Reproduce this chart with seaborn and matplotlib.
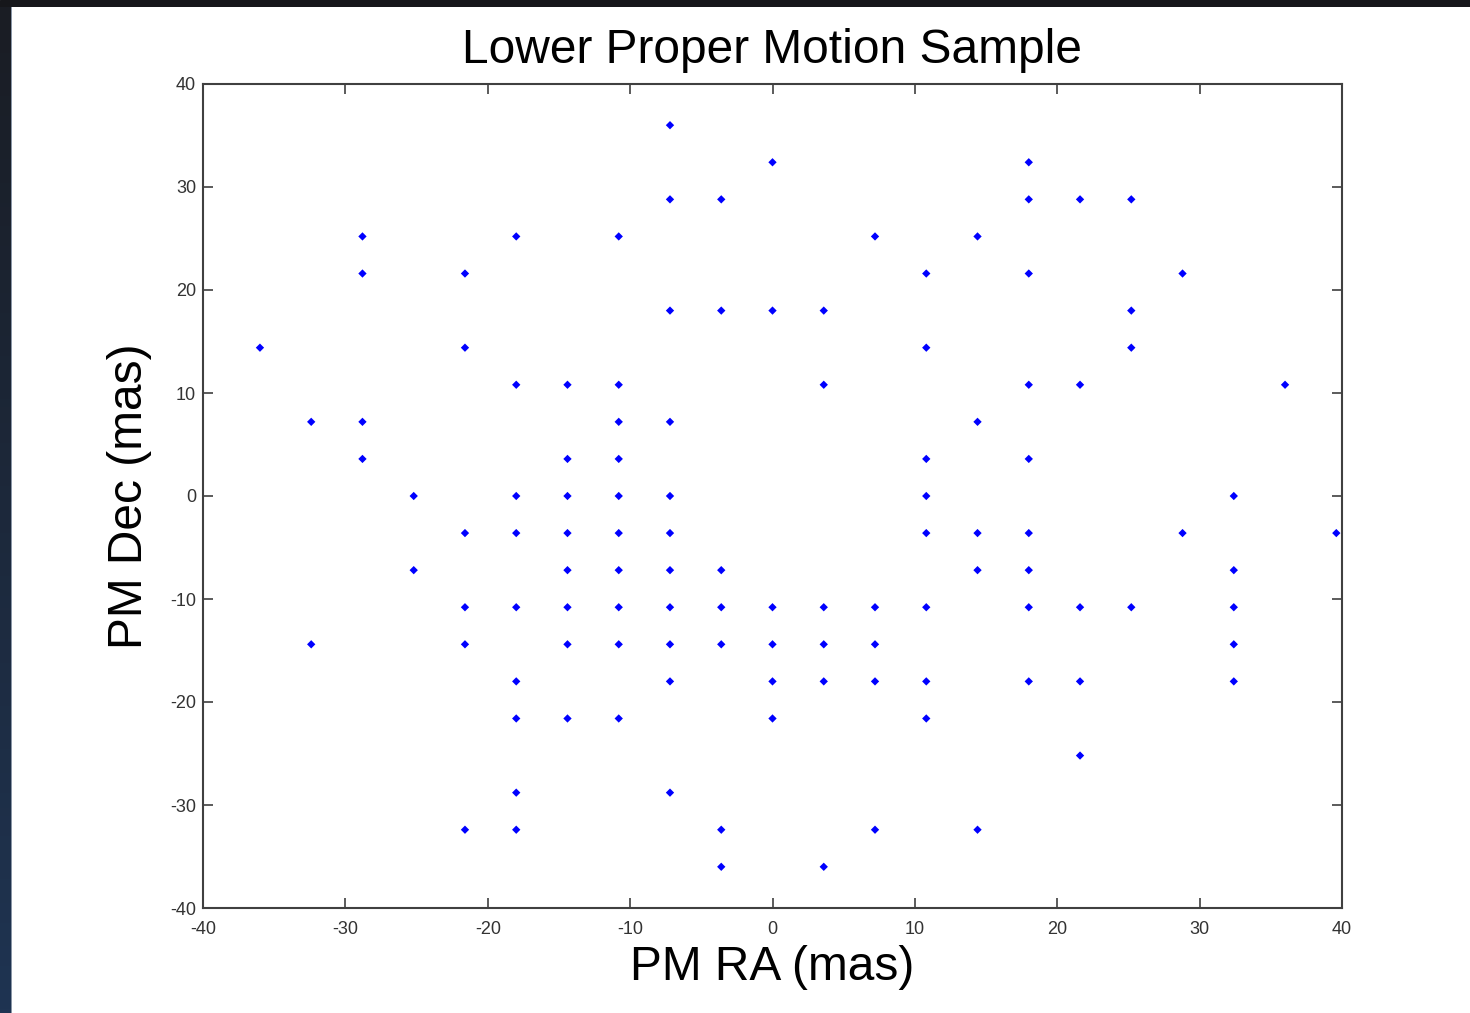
import numpy as np
import pandas as pd
import matplotlib
matplotlib.use("Agg")
import matplotlib.pyplot as plt
import seaborn as sns
from matplotlib.colors import LinearSegmentedColormap

# ---- data (proper motions, mas), grouped by Dec row ----
pm_ra = [
    -7.2,
    0, 18,
    -7.2, -3.6, 18, 21.6, 25.2,
    -28.8, -18, -10.8, 7.2, 14.4,
    -28.8, -21.6, 10.8, 18, 28.8,
    -7.2, -3.6, 0, 3.6, 25.2,
    -36, -21.6, 10.8, 25.2,
    -18, -14.4, -10.8, 3.6, 18, 21.6, 36,
    -32.4, -28.8, -10.8, -7.2, 14.4,
    -28.8, -14.4, -10.8, 10.8, 18,
    -25.2, -18, -14.4, -10.8, -7.2, 10.8, 32.4,
    -21.6, -18, -14.4, -10.8, -7.2, 10.8, 14.4, 18, 28.8, 39.6,
    -25.2, -14.4, -10.8, -7.2, -3.6, 14.4, 18, 32.4,
    -21.6, -18, -14.4, -10.8, -7.2, -3.6, 0, 3.6, 7.2, 10.8, 18, 21.6, 25.2, 32.4,
    -32.4, -21.6, -14.4, -10.8, -7.2, -3.6, 0, 3.6, 7.2, 32.4,
    -18, -7.2, 0, 3.6, 7.2, 10.8, 18, 21.6, 32.4,
    -18, -14.4, -10.8, 0, 10.8,
    21.6,
    -18, -7.2,
    -21.6, -18, -3.6, 7.2, 14.4,
    -3.6, 3.6,
]
pm_dec = (
    [36.0] * 1 + [32.4] * 2 + [28.8] * 5 + [25.2] * 5 + [21.6] * 5 + [18.0] * 5
    + [14.4] * 4 + [10.8] * 7 + [7.2] * 5 + [3.6] * 5 + [0.0] * 7 + [-3.6] * 10
    + [-7.2] * 8 + [-10.8] * 14 + [-14.4] * 10 + [-18.0] * 9 + [-21.6] * 5
    + [-25.2] * 1 + [-28.8] * 2 + [-32.4] * 5 + [-36.0] * 2
)
x_ticks = [-40, -30, -20, -10, 0, 10, 20, 30, 40]
y_ticks = [-40, -30, -20, -10, 0, 10, 20, 30, 40]

df = pd.DataFrame({"PM RA (mas)": pm_ra, "PM Dec (mas)": pm_dec})

sns.set_style("white")
plt.rcParams["font.family"] = ["Liberation Sans", "DejaVu Sans"]

W, H = 1470, 1013
fig = plt.figure(figsize=(W / 100, H / 100), dpi=100)
fig.patch.set_facecolor("white")

# screenshot frame: dark strip on top and gradient strip on left
top_ax = fig.add_axes([0, 1 - 7 / H, 1, 7 / H])
top_ax.set_axis_off()
top_ax.add_patch(plt.Rectangle((0, 0), 1, 1, transform=top_ax.transAxes, color="#16171b"))

left_ax = fig.add_axes([0, 0, 11 / W, 1 - 7 / H])
grad = np.linspace(0, 1, 256).reshape(-1, 1)
cmap = LinearSegmentedColormap.from_list("frame", ["#1f3452", "#1a1d24"])
left_ax.imshow(grad, aspect="auto", cmap=cmap, origin="lower", extent=[0, 1, 0, 1])
left_ax.set_axis_off()
edge_ax = fig.add_axes([11 / W, 0, 1.5 / W, 1 - 7 / H])
edge_ax.set_facecolor("#8a96a6")
edge_ax.set_xticks([]); edge_ax.set_yticks([])
for s in edge_ax.spines.values():
    s.set_visible(False)

# main axes
ax = fig.add_axes([203 / W, 1 - 908 / H, (1342 - 203) / W, (908 - 84) / H])
sns.scatterplot(data=df, x="PM RA (mas)", y="PM Dec (mas)", ax=ax,
                marker="D", s=18, color="#0000ff", edgecolor="none", linewidth=0)

ax.set_xlim(-40, 40)
ax.set_ylim(-40, 40)
ax.set_xticks(x_ticks)
ax.set_yticks(y_ticks)
ax.set_xticklabels([str(t) for t in x_ticks])
ax.set_yticklabels([str(t) for t in y_ticks])
ax.tick_params(direction="in", length=7, width=1.2, color="#404040",
               top=True, right=True, bottom=True, left=True,
               labelsize=13, labelcolor="#333333")
ax.tick_params(axis="x", pad=9)
ax.tick_params(axis="y", pad=5)
for s in ax.spines.values():
    s.set_visible(True)
    s.set_color("#404040")
    s.set_linewidth(1.5)

ax.set_xlabel("PM RA (mas)", fontsize=34.5, color="black")
ax.set_ylabel("PM Dec (mas)", fontsize=34.5, color="black")
ax.xaxis.set_label_coords(0.5, (908 - 967) / 824)
ax.xaxis.label.set_va("center")
ax.yaxis.set_label_coords((130 - 203) / 1139, 0.5)
ax.yaxis.label.set_va("center")

ax.set_title("Lower Proper Motion Sample", fontsize=34.5, color="black",
             y=(908 - 59) / 824, va="center")

fig.savefig("out.png", dpi=100, facecolor="white")
